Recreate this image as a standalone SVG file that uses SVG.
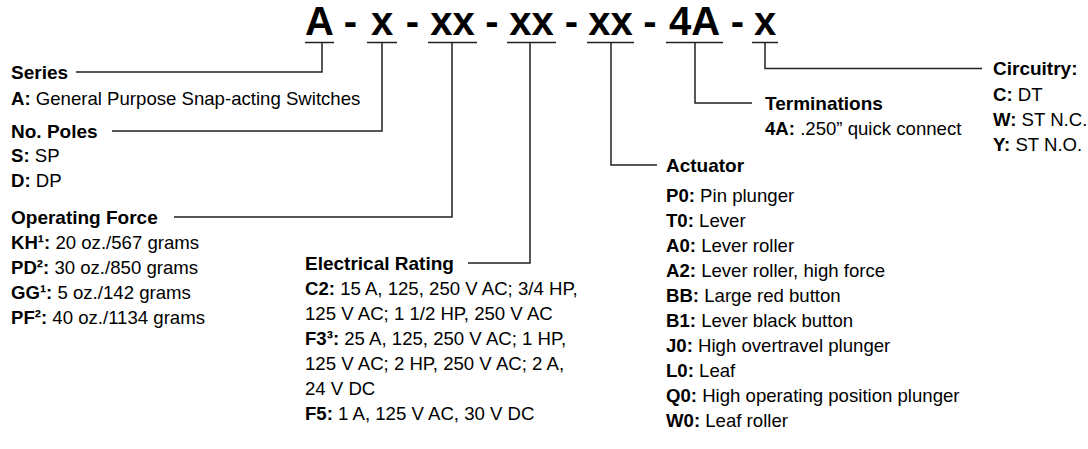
<svg xmlns="http://www.w3.org/2000/svg" width="1088" height="449" viewBox="0 0 1088 449">
<style>
  text { font-family: "Liberation Sans", Arial, sans-serif; fill: #000; }
  .code { font-size: 40px; font-weight: bold; text-anchor: middle; }
  .h { font-size: 19px; font-weight: bold; }
  .t { font-size: 18.6px; }
  .b { font-weight: bold; }
  .ln { stroke: #222; stroke-width: 1.5; fill: none; }
</style>
<rect width="1088" height="449" fill="#fff"/>
<g id="code">
  <text class="code" x="319.5" y="35">A</text>
  <text class="code" x="350.5" y="35">-</text>
  <text class="code" x="382" y="35">x</text>
  <text class="code" x="412.5" y="35">-</text>
  <text class="code" x="452.5" y="35">xx</text>
  <text class="code" x="492" y="35">-</text>
  <text class="code" x="531.5" y="35">xx</text>
  <text class="code" x="571.5" y="35">-</text>
  <text class="code" x="610.5" y="35">xx</text>
  <text class="code" x="650" y="35">-</text>
  <text class="code" x="694.5" y="35">4A</text>
  <text class="code" x="737.5" y="35">-</text>
  <text class="code" x="765" y="35">x</text>
</g>
<g id="connectors">
  <path class="ln" d="M305 42.5H334 M367 42.5H397 M428 42.5H477 M507 42.5H556 M587 42.5H634 M666 42.5H723 M752 42.5H778"/>
  <path class="ln" d="M322 42.5V72H76"/>
  <path class="ln" d="M382 42.5V131H112"/>
  <path class="ln" d="M452 42.5V217H174"/>
  <path class="ln" d="M530 42.5V263H468"/>
  <path class="ln" d="M611 42.5V165H657"/>
  <path class="ln" d="M695 42.5V103H752"/>
  <path class="ln" d="M765 42.5V68.5H982"/>
</g>
<g id="series">
  <text class="h" x="11" y="79">Series</text>
  <text class="t" x="11" y="105"><tspan class="b">A:</tspan> General Purpose Snap-acting Switches</text>
</g>
<g id="poles">
  <text class="h" x="11" y="138">No. Poles</text>
  <text class="t" x="11" y="162"><tspan class="b">S:</tspan> SP</text>
  <text class="t" x="11" y="187"><tspan class="b">D:</tspan> DP</text>
</g>
<g id="force">
  <text class="h" x="11" y="224">Operating Force</text>
  <text class="t" x="11" y="249"><tspan class="b">KH¹:</tspan> 20 oz./567 grams</text>
  <text class="t" x="11" y="274"><tspan class="b">PD²:</tspan> 30 oz./850 grams</text>
  <text class="t" x="11" y="299"><tspan class="b">GG¹:</tspan> 5 oz./142 grams</text>
  <text class="t" x="11" y="324"><tspan class="b">PF²:</tspan> 40 oz./1134 grams</text>
</g>
<g id="rating">
  <text class="h" x="305" y="270">Electrical Rating</text>
  <text class="t" x="305" y="295"><tspan class="b">C2:</tspan> 15 A, 125, 250 V AC; 3/4 HP,</text>
  <text class="t" x="305" y="320">125 V AC; 1 1/2 HP, 250 V AC</text>
  <text class="t" x="305" y="345"><tspan class="b">F3³:</tspan> 25 A, 125, 250 V AC; 1 HP,</text>
  <text class="t" x="305" y="370">125 V AC; 2 HP, 250 V AC; 2 A,</text>
  <text class="t" x="305" y="395">24 V DC</text>
  <text class="t" x="305" y="420"><tspan class="b">F5:</tspan> 1 A, 125 V AC, 30 V DC</text>
</g>
<g id="actuator">
  <text class="h" x="666" y="172">Actuator</text>
  <text class="t" x="666" y="202"><tspan class="b">P0:</tspan> Pin plunger</text>
  <text class="t" x="666" y="227"><tspan class="b">T0:</tspan> Lever</text>
  <text class="t" x="666" y="252"><tspan class="b">A0:</tspan> Lever roller</text>
  <text class="t" x="666" y="277"><tspan class="b">A2:</tspan> Lever roller, high force</text>
  <text class="t" x="666" y="302"><tspan class="b">BB:</tspan> Large red button</text>
  <text class="t" x="666" y="327"><tspan class="b">B1:</tspan> Lever black button</text>
  <text class="t" x="666" y="352"><tspan class="b">J0:</tspan> High overtravel plunger</text>
  <text class="t" x="666" y="377"><tspan class="b">L0:</tspan> Leaf</text>
  <text class="t" x="666" y="402"><tspan class="b">Q0:</tspan> High operating position plunger</text>
  <text class="t" x="666" y="427"><tspan class="b">W0:</tspan> Leaf roller</text>
</g>
<g id="terminations">
  <text class="h" x="765" y="110">Terminations</text>
  <text class="t" x="765" y="135"><tspan class="b">4A:</tspan> .250” quick connect</text>
</g>
<g id="circuitry">
  <text class="h" x="993" y="75">Circuitry:</text>
  <text class="t" x="993" y="101"><tspan class="b">C:</tspan> DT</text>
  <text class="t" x="993" y="126"><tspan class="b">W:</tspan> ST N.C.</text>
  <text class="t" x="993" y="151"><tspan class="b">Y:</tspan> ST N.O.</text>
</g>
</svg>
